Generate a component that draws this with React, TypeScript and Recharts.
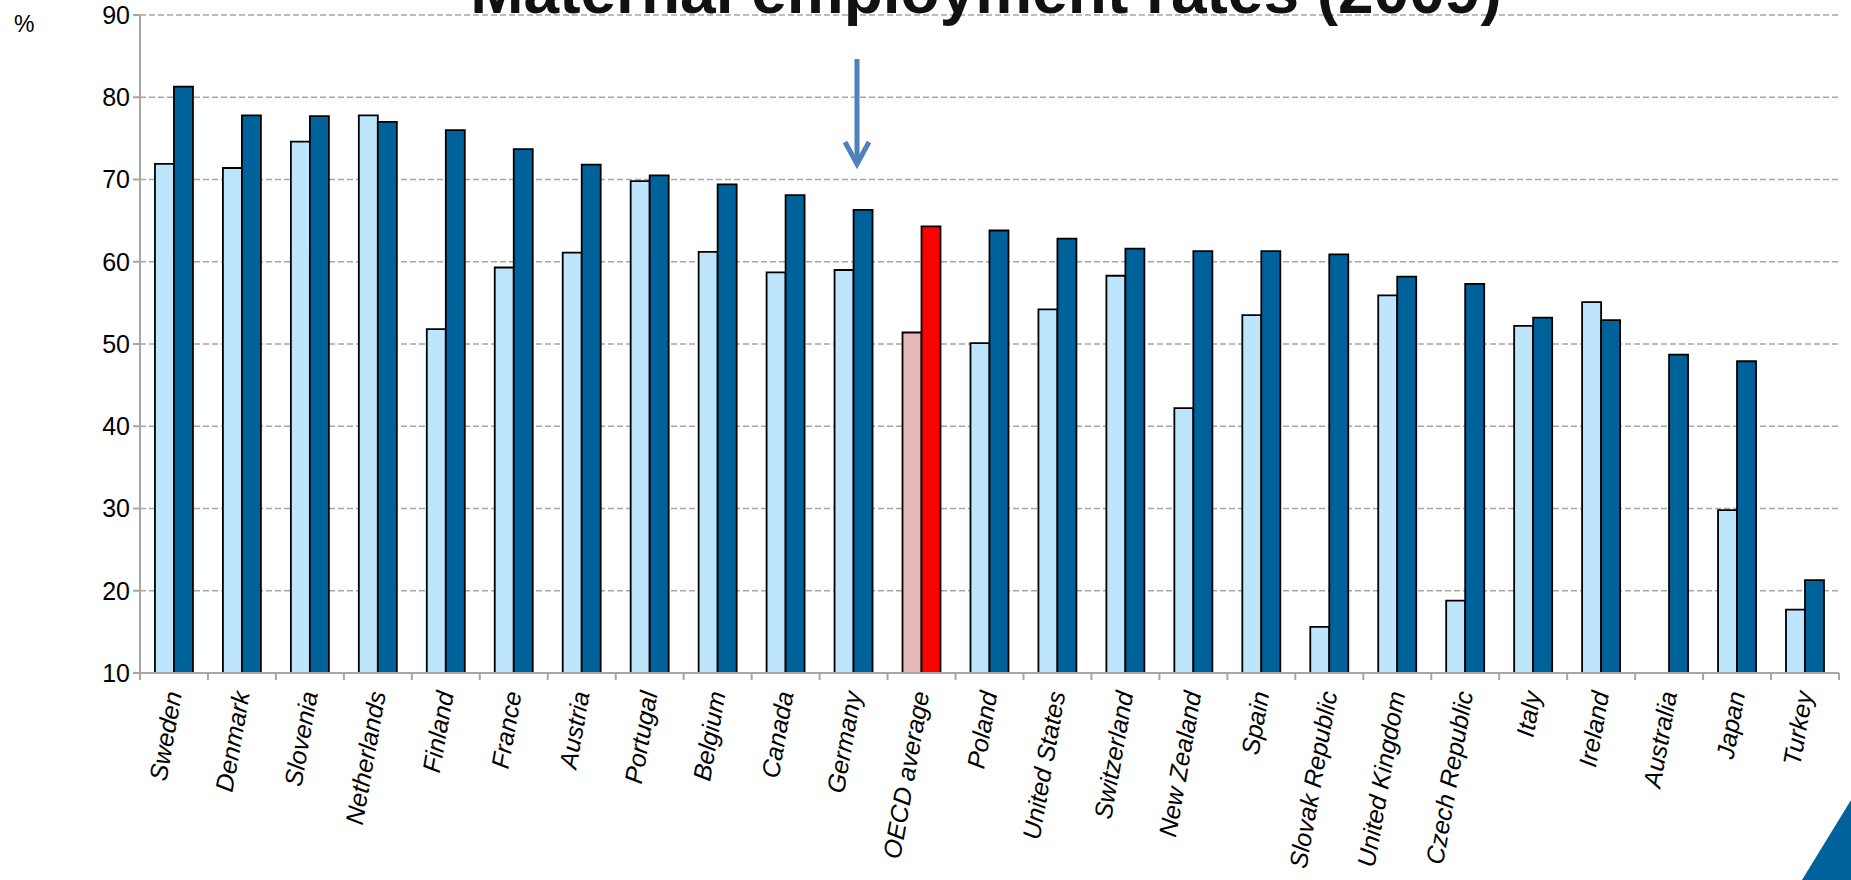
import { BarChart, Bar, XAxis, YAxis, CartesianGrid, Cell } from "recharts"

const countries = [
  "Sweden", "Denmark", "Slovenia", "Netherlands", "Finland", "France", "Austria",
  "Portugal", "Belgium", "Canada", "Germany", "OECD average", "Poland", "United States",
  "Switzerland", "New Zealand", "Spain", "Slovak Republic", "United Kingdom",
  "Czech Republic", "Italy", "Ireland", "Australia", "Japan", "Turkey",
]

// light bars
const mothers = [
  71.9, 71.4, 74.6, 77.8, 51.8, 59.3, 61.1, 69.8, 61.2, 58.7, 59.0, 51.4, 50.1, 54.2,
  58.3, 42.2, 53.5, 15.6, 55.9, 18.8, 52.2, 55.1, 9.6, 29.8, 17.7,
]

// dark bars
const women = [
  81.3, 77.8, 77.7, 77.0, 76.0, 73.7, 71.8, 70.5, 69.4, 68.1, 66.3, 64.3, 63.8, 62.8,
  61.6, 61.3, 61.3, 60.9, 58.2, 57.3, 53.2, 52.9, 48.7, 47.9, 21.3,
]

const yTicks = [10, 20, 30, 40, 50, 60, 70, 80, 90]

const data = countries.map((country, i) => ({ country, mothers: mothers[i], women: women[i] }))

const W = 1851
const H = 880
const MARGIN = { top: 15, right: 12, left: 0, bottom: 0 }
const Y_AXIS_W = 140
const X_AXIS_H = 207
const BAND = (W - MARGIN.right - Y_AXIS_W) / countries.length

const GREY = "#a6a6a6"
const LIGHT = "#bde5fc"
const DARK = "#00629b"
const FONT = "'Liberation Sans', Arial, sans-serif"

const CountryTick = (props: any) => {
  const { x, y, payload, index } = props
  const half = BAND / 2
  const ax = x + 8
  const ay = y + 20
  return (
    <g>
      <line x1={x - half} y1={y} x2={x - half} y2={y + 7} stroke={GREY} strokeWidth={2} />
      {index === countries.length - 1 && (
        <line x1={x + half} y1={y} x2={x + half} y2={y + 7} stroke={GREY} strokeWidth={2} />
      )}
      <text
        x={ax}
        y={ay}
        transform={`rotate(-80, ${ax}, ${ay})`}
        textAnchor="end"
        fontStyle="italic"
        fontSize={25}
        fontFamily={FONT}
        fill="#000"
      >
        {payload.value}
      </text>
    </g>
  )
}

export default function App() {
  return (
    <div style={{ position: "absolute", left: 0, top: 0, width: W, height: H, background: "#fff", fontFamily: FONT }}>
      <BarChart width={W} height={H} data={data} margin={MARGIN} barCategoryGap="22%" barGap={0}>
        <CartesianGrid vertical={false} stroke={GREY} strokeWidth={1.5} strokeDasharray="6 3" />
        <XAxis
          dataKey="country"
          interval={0}
          height={X_AXIS_H}
          tickLine={false}
          tickSize={0}
          tickMargin={0}
          axisLine={{ stroke: GREY, strokeWidth: 2 }}
          tick={<CountryTick />}
        />
        <YAxis
          width={Y_AXIS_W}
          domain={[10, 90]}
          ticks={yTicks}
          allowDataOverflow
          tickSize={7}
          tickMargin={3}
          tickLine={{ stroke: GREY, strokeWidth: 2 }}
          axisLine={{ stroke: GREY, strokeWidth: 2 }}
          tick={{ fill: "#000", fontSize: 25, fontFamily: FONT }}
        />
        <Bar dataKey="mothers" stroke="#000" strokeWidth={1.8} isAnimationActive={false}>
          {data.map((d) => (
            <Cell key={d.country} fill={d.country === "OECD average" ? "#e6b9b8" : LIGHT} />
          ))}
        </Bar>
        <Bar dataKey="women" stroke="#000" strokeWidth={1.8} isAnimationActive={false}>
          {data.map((d) => (
            <Cell key={d.country} fill={d.country === "OECD average" ? "#ff0000" : DARK} />
          ))}
        </Bar>
      </BarChart>
      <svg width={W} height={H} style={{ position: "absolute", left: 0, top: 0, pointerEvents: "none" }}>
        <text x={986} y={13} textAnchor="middle" fontSize={64} fontWeight="bold" fontFamily={FONT} fill="#111">
          Maternal employment rates (2009)
        </text>
        <text x={14} y={32} fontSize={23} fontFamily={FONT} fill="#000">%</text>
        <line x1={857} y1={59} x2={857} y2={162} stroke="#4f81bd" strokeWidth={5} />
        <polyline points="845,142 857,164 869,142" fill="none" stroke="#4f81bd" strokeWidth={5} strokeLinejoin="miter" />
        <polygon points="1802,880 1851,800 1851,880" fill={DARK} />
      </svg>
    </div>
  )
}
